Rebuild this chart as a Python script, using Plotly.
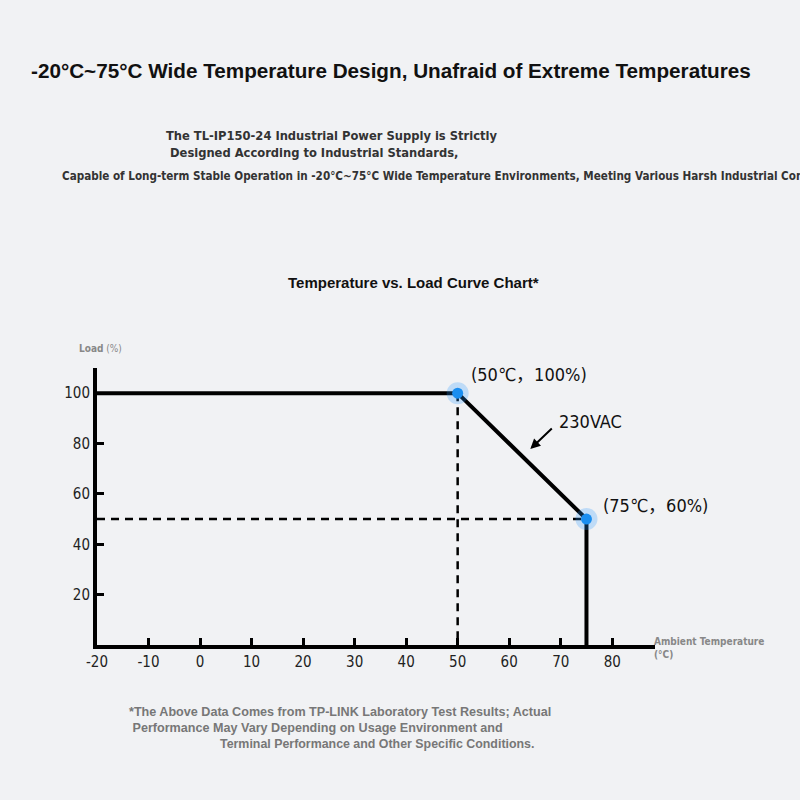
import plotly.graph_objects as go

# curve data (ambient temp in C, load in %)
temps = [-20, 50, 75, 75]
loads = [100, 100, 50, 0]

# dashed guide lines
guide_v_x = [50, 50]
guide_v_y = [100, 0]
guide_h_x = [-20, 75]
guide_h_y = [50, 50]

# highlighted points
pt_x = [50, 75]
pt_y = [100, 50]
pt_labels = ["(50℃，100%)", "(75℃，60%)"]

x_ticks = [-20, -10, 0, 10, 20, 30, 40, 50, 60, 70, 80]
x_tick_text = ["-20", "-10", "0", "10", "20", "30", "40", "50", "60", "70", "80"]
y_ticks = [20, 40, 60, 80, 100]

# plot area in pixels
L, R, T, B = 97, 655, 368, 645


def px(x):
    return (x - L) / (R - L)


def py(y):
    return (B - y) / (B - T)


narrow = "DejaVu Sans Condensed, Liberation Sans Narrow, Liberation Sans, Arial, Noto Sans CJK SC"
bold = "Liberation Sans, Arial, sans-serif"


def text_at(x, y, text, size, color, family=narrow, xanchor="center"):
    return dict(x=px(x), y=py(y), xref="paper", yref="paper", text=text,
                xanchor=xanchor, yanchor="middle", showarrow=False, align="left",
                font=dict(family=family, size=size, color=color))


fig = go.Figure()

fig.add_trace(go.Scatter(x=guide_v_x, y=guide_v_y, mode="lines",
                         line=dict(color="black", width=2.5, dash="8px,6px")))
fig.add_trace(go.Scatter(x=guide_h_x, y=guide_h_y, mode="lines",
                         line=dict(color="black", width=2.5, dash="8px,6px")))
fig.add_trace(go.Scatter(x=temps, y=loads, mode="lines",
                         line=dict(color="black", width=4)))
# glow + dots
fig.add_trace(go.Scatter(x=pt_x, y=pt_y, mode="markers", cliponaxis=False,
                         marker=dict(size=22, color="rgba(40,150,255,0.25)")))
fig.add_trace(go.Scatter(x=pt_x, y=pt_y, mode="markers", cliponaxis=False,
                         marker=dict(size=11, color="#1a8ef0")))

fig.update_xaxes(range=[-20, 88.3], tickvals=x_ticks, ticktext=x_tick_text, showline=True,
                 linecolor="black", linewidth=4, ticks="inside", ticklen=7, tickwidth=3,
                 tickcolor="black", showgrid=False, zeroline=False,
                 tickfont=dict(family=narrow, size=15, color="#222"))
fig.update_yaxes(range=[0, 110], tickvals=y_ticks, showline=True, linecolor="black",
                 linewidth=4, ticks="inside", ticklen=7, tickwidth=3, tickcolor="black",
                 showgrid=False, zeroline=False,
                 tickfont=dict(family=narrow, size=15, color="#222"))

ann = []
# point labels
ann.append(text_at(529, 374, pt_labels[0], 18, "#111"))
ann.append(text_at(655, 505, pt_labels[1], 18, "#111"))
# 230VAC with arrow
ann.append(dict(x=64.1, y=77.8, ax=23, ay=-22, text="", showarrow=True,
                arrowhead=2, arrowsize=1, arrowwidth=2, arrowcolor="black"))
ann.append(text_at(590, 421, "230VAC", 18, "#111"))

# axis titles
ann.append(text_at(77, 348, "<b>Load</b> (%)", 10, "#888", xanchor="left"))
ann.append(text_at(652, 648, "<b>Ambient Temperature</b><br><b>(°C)</b>", 10, "#888",
                   xanchor="left"))

# headings
ann.append(text_at(391, 71, "<b>-20°C~75°C Wide Temperature Design, Unafraid of Extreme Temperatures</b>",
                   20.7, "#111", family=bold))
ann.append(text_at(164, 143.5, "<b>The TL-IP150-24 Industrial Power Supply is Strictly</b><br>"
                   "<b>&nbsp;Designed According to Industrial Standards,</b>",
                   12.8, "#333", xanchor="left"))
ann.append(text_at(60, 176, "<b>Capable of Long-term Stable Operation in -20°C~75°C Wide Temperature Environments, Meeting Various Harsh Industrial Conditions.</b>",
                   11.6, "#333", xanchor="left"))
ann.append(text_at(413, 282, "<b>Temperature vs. Load Curve Chart*</b>", 15, "#111", family=bold))

# footnote
foot = "#777"
ann.append(text_at(127, 720, "<b>*The Above Data Comes from TP-LINK Laboratory Test Results; Actual</b><br>"
                   "<b>&nbsp;Performance May Vary Depending on Usage Environment and</b>",
                   12.6, foot, family=bold, xanchor="left"))
ann.append(text_at(218, 744, "<b>Terminal Performance and Other Specific Conditions.</b>",
                   12.4, foot, family=bold, xanchor="left"))

fig.update_layout(width=800, height=800, showlegend=False,
                  margin=dict(l=L, r=800 - R, t=T, b=800 - B, autoexpand=False),
                  paper_bgcolor="#f1f2f4", plot_bgcolor="#f1f2f4",
                  annotations=ann)

fig.write_html("out.html", config={"displayModeBar": False},
               post_script="document.body.style.margin='0';document.body.style.background='#f1f2f4';")
